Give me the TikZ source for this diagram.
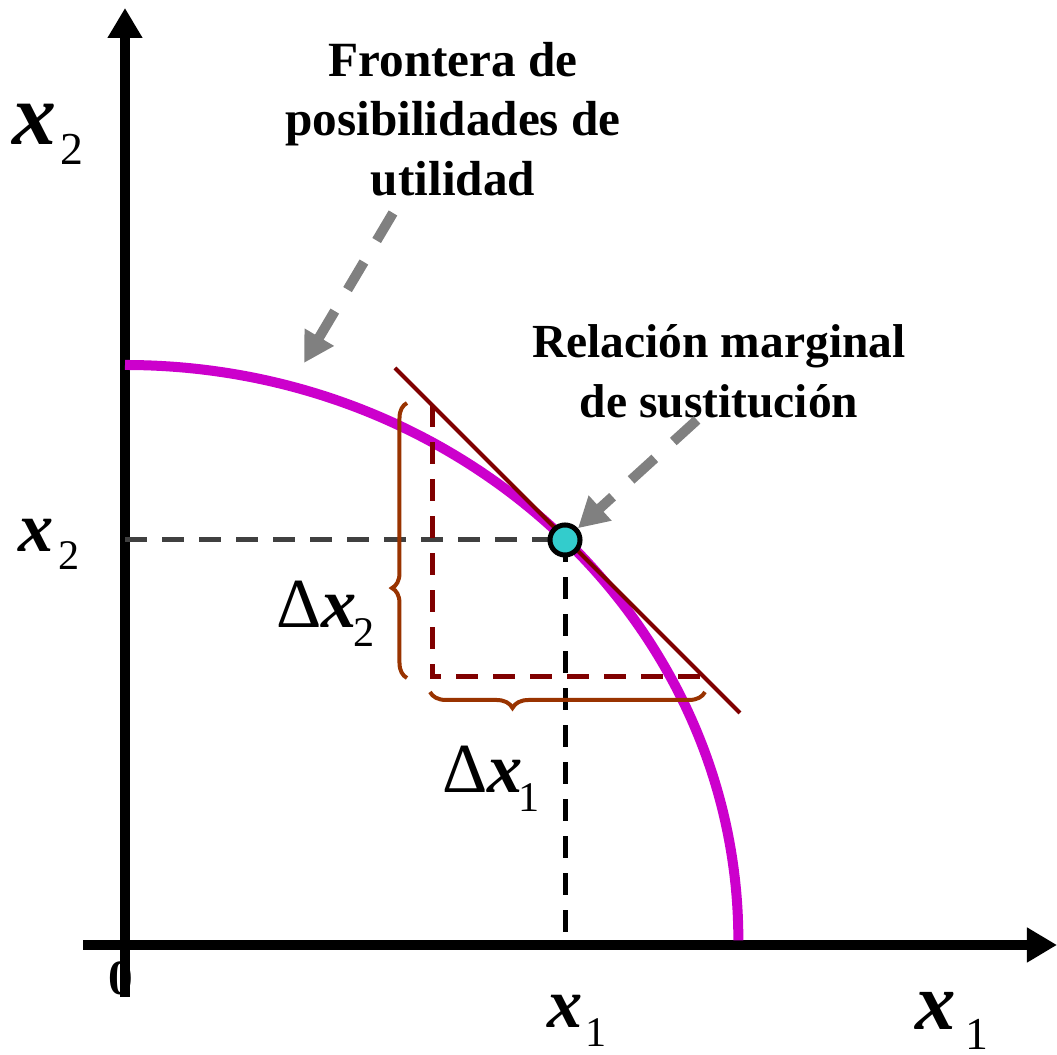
\documentclass[tikz,border=0pt]{standalone}
\usepackage{fontspec}
\setmainfont{Liberation Serif}
\usetikzlibrary{arrows.meta, decorations.pathreplacing, positioning}
\definecolor{fmagenta}{HTML}{CC00CC}
\definecolor{fcyan}{HTML}{33CCCC}
\definecolor{fdarkred}{HTML}{800000}
\definecolor{fbrace}{HTML}{993300}
\definecolor{fgray}{HTML}{808080}
\definecolor{fdgray}{HTML}{404040}
\tikzset{
  axisline/.style={line width=0.1cm, -{Triangle[length=0.3cm, width=0.33cm]}},
  pointer/.style={fgray, line width=0.1cm, dash pattern=on 0.32cm off 0.25cm,
    -{Triangle[length=0.3cm, width=0.32cm]}},
  guide/.style={line width=0.05cm, dash pattern=on 0.22cm off 0.15cm},
  bracket/.style={fbrace, line width=0.04cm, decorate},
  varlbl/.style={inner sep=0pt, anchor=base west, font=\fontsize{20}{20}\selectfont},
  sublbl/.style={inner sep=0pt, anchor=base west, font=\fontsize{12}{12}\selectfont},
  note/.style={inner sep=0pt, anchor=south, align=center, font=\fontsize{14}{17}\selectfont\bfseries},
}

\begin{document}
\begin{tikzpicture}[x=0.01cm, y=0.01cm]
\useasboundingbox (0,0) rectangle (1057,1055);
% origin and axes
\node[inner sep=0pt, font=\fontsize{14}{14}\selectfont\bfseries] (zero) at (121,77) {0};
\coordinate (yfoot) at (125,58);
\coordinate (ytop) at (125,1047);
\coordinate (xfoot) at (83,110);
\coordinate (xtop) at (1057,110);
\draw[axisline] (yfoot) -- (ytop);
\draw[axisline] (xfoot) -- (xtop);
% frontier
\draw[fmagenta, line width=0.1cm] (125,690) arc[start angle=90, end angle=0, x radius=6.13cm, y radius=5.75cm];
% point and guides
\coordinate (ptc) at (565,515);
\coordinate (x2tick) at (125,515);
\coordinate (x1tick) at (565,110);
\draw[guide, fdgray] (x2tick) -- (ptc);
\draw[guide, black] (ptc) -- (x1tick);
% tangent and triangle
\coordinate (tanA) at (395,687);
\coordinate (tanB) at (740,342);
\coordinate (triTop) at (432,650);
\coordinate (triCorner) at (432,378);
\coordinate (triRight) at (704,378);
\draw[guide, fdarkred] (triTop) -- (triCorner) -- (triRight);
\draw[fdarkred, line width=0.04cm] (tanA) -- (tanB);
% braces
\coordinate (bvA) at (407,377);
\coordinate (bvB) at (407,652);
\coordinate (bhA) at (430,363);
\coordinate (bhB) at (705,363);
\draw[bracket, decoration={brace, amplitude=0.15cm, aspect=0.327}] (bvA) -- (bvB);
\draw[bracket, decoration={brace, mirror, amplitude=0.16cm, aspect=0.30}] (bhA) -- (bhB);
\node[circle, fill=fcyan, draw=black, line width=0.05cm, minimum size=0.30cm, inner sep=0pt] (mrs) at (ptc) {};
% labels
\node[varlbl, font=\fontsize{25}{25}\selectfont] (axX2) at (12,910) {\textbf{\textit{x}}};
\node[sublbl, font=\fontsize{13}{13}\selectfont] (axX2s) at (60,890) {2};
\node[varlbl, font=\fontsize{23}{23}\selectfont] (axX1) at (915,25) {\textbf{\textit{x}}};
\node[sublbl, font=\fontsize{13}{13}\selectfont] (axX1s) at (965,5) {1};
\node[varlbl] (valX2) at (18,503) {\textbf{\textit{x}}};
\node[sublbl] (valX2s) at (58,485) {2};
\node[varlbl] (valX1) at (547,27) {\textbf{\textit{x}}};
\node[sublbl] (valX1s) at (585,8) {1};
\node[varlbl] (dX2) at (276,427) {Δ\textbf{\textit{x}}};
\node[sublbl] (dX2s) at (353,408) {2};
\node[varlbl] (dX1) at (442,262) {Δ\textbf{\textit{x}}};
\node[sublbl] (dX1s) at (518,243) {1};
% notes and pointers
\node[note] (frontier) at (453,858) {Frontera de\\posibilidades de\\utilidad};
\node[note, font=\fontsize{13.5}{17}\selectfont\bfseries] (mrsnote) at (719,636) {Relación marginal\\de sustitución};
\coordinate (frontStart) at (393,842);
\coordinate (frontTip) at (304,692);
\coordinate (mrsStart) at (697,635);
\draw[pointer] (frontStart) -- (frontTip);
\draw[pointer] (mrsStart) -- (mrs);
\end{tikzpicture}
\end{document}
